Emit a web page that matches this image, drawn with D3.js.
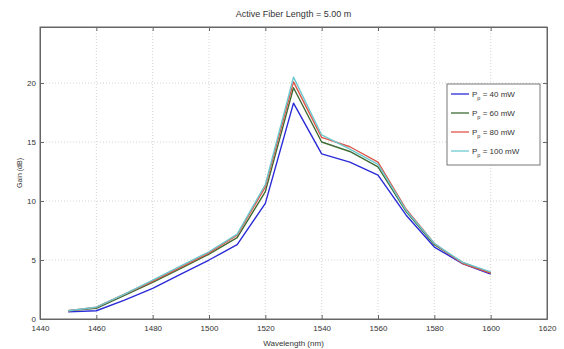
<!DOCTYPE html>
<html>
<head>
<meta charset="utf-8">
<script src="https://cdn.jsdelivr.net/npm/d3@7"></script>
<style>
  html, body { margin: 0; padding: 0; background: #fff; }
  svg text { font-family: "Liberation Sans", Arial, sans-serif; fill: #333; }
</style>
</head>
<body>
<div id="chart"></div>
<script>
// Gain vs wavelength for four pump powers
const wavelengths = [1450, 1460, 1470, 1480, 1490, 1500, 1510, 1520, 1530, 1540, 1550, 1560, 1570, 1580, 1590, 1600];
const gain40  = [0.6, 0.7, 1.6, 2.6, 3.8, 5.0, 6.3, 9.8, 18.3, 14.0, 13.3, 12.2, 8.8, 6.1, 4.7, 3.8];
const gain60  = [0.7, 0.9, 2.0, 3.1, 4.3, 5.5, 6.9, 10.8, 19.6, 15.0, 14.2, 12.9, 9.1, 6.3, 4.8, 3.9];
const gain80  = [0.7, 1.0, 2.1, 3.2, 4.4, 5.6, 7.1, 11.2, 20.1, 15.4, 14.6, 13.3, 9.3, 6.4, 4.7, 3.9];
const gain100 = [0.7, 1.0, 2.1, 3.3, 4.5, 5.7, 7.2, 11.4, 20.5, 15.6, 14.4, 13.1, 9.2, 6.4, 4.8, 4.0];
const seriesNames = ["40", "60", "80", "100"];
const xTicks = [1440, 1460, 1480, 1500, 1520, 1540, 1560, 1580, 1600, 1620];
const yTicks = [0, 5, 10, 15, 20];

const series = [
  { name: seriesNames[0], values: gain40,  color: "#2a2ad8" },
  { name: seriesNames[1], values: gain60,  color: "#3f6b34" },
  { name: seriesNames[2], values: gain80,  color: "#e0554a" },
  { name: seriesNames[3], values: gain100, color: "#6cc9cf" }
];

const W = 564, H = 349;
const M = { top: 27, right: 17, bottom: 30, left: 40 };
const iW = W - M.left - M.right;
const iH = H - M.top - M.bottom;

const svg = d3.select("#chart").append("svg").attr("width", W).attr("height", H);
const g = svg.append("g").attr("transform", `translate(${M.left},${M.top})`);

const x = d3.scaleLinear().domain([1440, 1620]).range([0, iW]);
const y = d3.scaleLinear().domain([0, 24.75]).range([iH, 0]);

// Dotted grid
g.append("g").selectAll("line").data(xTicks.slice(1, -1)).enter().append("line")
  .attr("x1", d => x(d)).attr("x2", d => x(d)).attr("y1", 0).attr("y2", iH)
  .attr("stroke", "#d4d4d4").attr("stroke-dasharray", "1,2");
g.append("g").selectAll("line").data(yTicks.slice(1)).enter().append("line")
  .attr("x1", 0).attr("x2", iW).attr("y1", d => y(d)).attr("y2", d => y(d))
  .attr("stroke", "#d4d4d4").attr("stroke-dasharray", "1,2");

// Lines
const line = d3.line().x((d, i) => x(wavelengths[i])).y(d => y(d));
series.forEach(s => {
  g.append("path").datum(s.values)
    .attr("fill", "none").attr("stroke", s.color)
    .attr("stroke-width", 1.4).attr("stroke-linejoin", "round")
    .attr("d", line);
});

// Axes: ticks inward on all four sides (MATLAB box style)
g.append("g").attr("transform", `translate(0,${iH})`)
  .call(d3.axisBottom(x).tickValues(xTicks).tickFormat(d3.format("d"))
    .tickSizeInner(-4).tickSizeOuter(0).tickPadding(6));
g.append("g")
  .call(d3.axisLeft(y).tickValues(yTicks).tickSizeInner(-4).tickSizeOuter(0).tickPadding(4));
g.append("g").call(d3.axisTop(x).tickValues(xTicks).tickSizeInner(-4).tickSizeOuter(0).tickFormat(""));
g.append("g").attr("transform", `translate(${iW},0)`)
  .call(d3.axisRight(y).tickValues(yTicks).tickSizeInner(-4).tickSizeOuter(0).tickFormat(""));
g.selectAll(".domain").attr("stroke", "#666");
g.selectAll(".tick line").attr("stroke", "#666");
g.selectAll(".tick text").attr("font-size", 8).attr("fill", "#444");

g.append("rect").attr("width", iW).attr("height", iH)
  .attr("fill", "none").attr("stroke", "#666");

// Labels
svg.append("text").attr("x", M.left + iW / 2).attr("y", 17)
  .attr("text-anchor", "middle").attr("font-size", 9).text("Active Fiber Length = 5.00 m");
svg.append("text").attr("x", M.left + iW / 2).attr("y", 346)
  .attr("text-anchor", "middle").attr("font-size", 8).text("Wavelength (nm)");
svg.append("text").attr("transform", `translate(22,${M.top + iH / 2}) rotate(-90)`)
  .attr("text-anchor", "middle").attr("font-size", 7).text("Gain (dB)");

// Legend
const lg = svg.append("g").attr("transform", "translate(447,84)");
lg.append("rect").attr("width", 93).attr("height", 81)
  .attr("fill", "#fff").attr("stroke", "#777");
series.forEach((s, i) => {
  const yy = 10 + i * 19;
  lg.append("line").attr("x1", 4).attr("x2", 22).attr("y1", yy).attr("y2", yy)
    .attr("stroke", s.color).attr("stroke-width", 1.3);
  const t = lg.append("text").attr("x", 25).attr("y", yy + 3).attr("font-size", 8);
  t.append("tspan").text("P");
  t.append("tspan").attr("font-size", 5.5).attr("dy", 3).text("p");
  t.append("tspan").attr("dy", -3).text(` = ${s.name} mW`);
});
</script>
</body>
</html>
